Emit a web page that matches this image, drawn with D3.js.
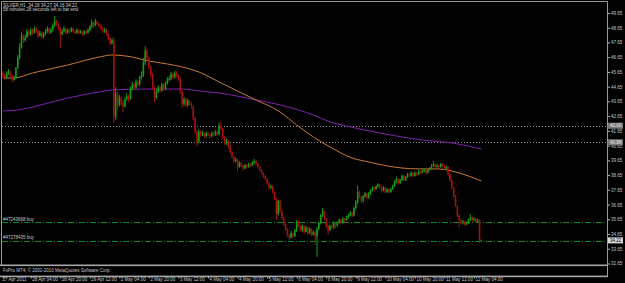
<!DOCTYPE html>
<html>
<head>
<meta charset="utf-8">
<script src="https://cdn.jsdelivr.net/npm/d3@7"></script>
<style>
  body { margin: 0; background: #000; }
  text { font-family: "Liberation Sans", Arial, sans-serif; }
</style>
</head>
<body>
<div id="chart"></div>
<script>
// SILVER H1, 27 Apr 2011 13:00 -> 12 May 2011 08:00 (one value per bar)
var firstOpen = 45.60;
var closes = [
  45.45, 45.30, 45.55, 45.70, 45.40, 45.10, 45.25, 45.90, 46.60, 47.30,
  48.10, 47.80, 48.00, 48.40, 48.20, 48.50, 48.30, 48.60, 48.40, 48.10,
  48.30, 48.00, 48.20, 48.40, 48.60, 48.30, 48.50, 48.80, 49.10, 48.90,
  48.60, 48.20, 48.40, 48.60, 48.30, 48.50, 48.40, 48.60, 48.40, 48.30,
  48.50, 48.30, 48.40, 48.20, 48.40, 48.30, 48.50, 48.70, 49.00, 48.80,
  49.10, 48.90, 48.80, 48.60, 48.40, 48.50, 48.20, 47.90, 47.60, 47.80,
  42.60, 44.20, 43.40, 43.90, 43.60, 43.30, 43.80, 44.00, 43.80, 44.50,
  44.80, 44.60, 45.00, 44.80, 45.30, 45.40, 46.30, 47.10, 46.60, 46.00,
  45.50, 44.60, 43.90, 44.30, 44.60, 44.40, 44.80, 44.50, 44.90, 45.10,
  45.20, 45.50, 45.30, 45.60, 45.40, 45.20, 44.30, 43.50, 43.80, 43.40,
  43.70, 43.50, 43.30, 42.50, 41.60, 40.90, 41.60, 41.40, 41.50, 41.30,
  41.50, 41.40, 41.30, 41.50, 41.40, 41.60, 41.40, 42.00, 41.80, 41.20,
  40.80, 41.00, 40.60, 40.20, 39.90, 39.60, 39.70, 39.20, 39.50, 39.30,
  39.10, 39.30, 39.20, 39.40, 39.30, 39.50, 39.60, 39.40, 39.20, 39.00,
  38.80, 38.60, 38.40, 38.10, 37.80, 37.90, 37.50, 37.10, 36.00, 36.90,
  36.20, 35.70, 35.30, 35.00, 34.60, 34.40, 34.70, 34.50, 34.90, 35.50,
  35.20, 34.90, 35.20, 34.80, 35.10, 34.70, 35.00, 34.60, 34.80, 34.50,
  35.00, 35.40, 35.90, 36.20, 35.70, 35.20, 34.90, 35.20, 35.10, 35.40,
  35.20, 35.40, 35.60, 35.40, 35.70, 35.60, 35.80, 35.90, 36.10, 35.90,
  36.40, 36.80, 37.50, 37.20, 36.90, 37.20, 37.40, 37.10, 37.40, 37.60,
  37.80, 37.70, 37.90, 38.00, 37.80, 37.60, 37.80, 37.50, 37.70, 37.50,
  37.70, 37.90, 38.20, 38.40, 38.10, 38.30, 38.60, 38.30, 38.50, 38.70,
  38.60, 38.80, 38.60, 38.80, 38.70, 38.90, 38.80, 38.90, 39.00, 38.80,
  39.00, 39.10, 39.30, 39.40, 39.20, 39.30, 39.20, 39.40, 39.30, 39.10,
  39.20, 38.70, 38.30, 37.80, 37.20, 36.60, 35.90, 35.60, 35.40, 35.50,
  35.30, 35.40, 35.60, 35.80, 35.60, 35.70, 35.50, 35.60, 34.18, 34.22
];
var highs = [
  45.70, 45.55, 45.70, 45.85, 45.75, 45.45, 45.40, 46.00, 46.80, 47.60,
  48.35, 48.20, 48.20, 48.55, 48.50, 48.65, 48.60, 48.75, 48.70, 48.50,
  48.45, 48.40, 48.35, 48.55, 48.75, 48.65, 48.65, 48.95, 49.45, 49.20,
  48.95, 48.70, 48.55, 48.75, 48.65, 48.60, 48.60, 48.70, 48.65, 48.50,
  48.60, 48.55, 48.50, 48.45, 48.50, 48.45, 48.60, 48.85, 49.20, 49.05,
  49.25, 49.15, 49.00, 48.90, 48.70, 48.65, 48.60, 48.30, 48.00, 47.95,
  48.00, 44.60, 44.30, 44.10, 44.00, 43.75, 43.95, 44.20, 44.10, 44.65,
  45.00, 44.90, 45.15, 45.10, 45.40, 45.70, 46.60, 47.40, 47.20, 46.70,
  46.10, 45.60, 44.70, 44.50, 44.75, 44.70, 44.90, 44.85, 45.00, 45.30,
  45.40, 45.65, 45.60, 45.75, 45.70, 45.50, 45.25, 44.40, 43.95, 43.90,
  43.85, 43.75, 43.60, 43.35, 42.60, 41.70, 41.75, 41.70, 41.65, 41.55,
  41.60, 41.60, 41.45, 41.60, 41.60, 41.70, 41.65, 42.20, 42.30, 41.85,
  41.30, 41.15, 41.05, 40.70, 40.30, 39.95, 39.85, 39.75, 39.60, 39.55,
  39.35, 39.40, 39.40, 39.50, 39.45, 39.60, 39.75, 39.65, 39.45, 39.25,
  39.05, 38.85, 38.65, 38.45, 38.15, 38.00, 37.95, 37.55, 37.15, 36.95,
  36.95, 36.25, 35.75, 35.35, 35.05, 34.70, 34.85, 34.75, 35.00, 35.60,
  35.55, 35.25, 35.30, 35.25, 35.20, 35.15, 35.10, 35.05, 34.90, 34.85,
  35.10, 35.50, 36.00, 36.40, 36.25, 35.75, 35.25, 35.30, 35.30, 35.50,
  35.45, 35.50, 35.70, 35.65, 35.80, 35.75, 35.90, 36.00, 36.20, 36.15,
  36.50, 36.95, 37.95, 37.60, 37.25, 37.30, 37.50, 37.45, 37.50, 37.70,
  37.90, 37.85, 37.95, 38.10, 38.05, 37.85, 37.90, 37.85, 37.75, 37.75,
  37.80, 38.00, 38.30, 38.55, 38.45, 38.40, 38.70, 38.65, 38.60, 38.80,
  38.80, 38.90, 38.85, 38.90, 38.85, 39.00, 38.95, 39.00, 39.10, 39.05,
  39.10, 39.20, 39.40, 39.60, 39.45, 39.40, 39.35, 39.50, 39.45, 39.35,
  39.30, 39.25, 38.75, 38.35, 37.85, 37.30, 36.65, 36.00, 35.70, 35.60,
  35.55, 35.50, 35.70, 36.00, 35.85, 35.80, 35.75, 35.70, 35.65, 34.27
];
var lows = [
  45.25, 45.10, 45.20, 45.45, 45.30, 44.95, 45.05, 45.20, 45.85, 46.50,
  47.25, 47.60, 47.70, 47.95, 48.05, 48.10, 48.15, 48.25, 48.30, 47.95,
  48.05, 47.90, 47.95, 48.15, 48.30, 48.20, 48.25, 48.40, 48.70, 48.75,
  48.45, 47.30, 48.15, 48.35, 48.20, 48.25, 48.30, 48.35, 48.30, 48.20,
  48.25, 48.20, 48.25, 48.10, 48.15, 48.20, 48.25, 48.40, 48.60, 48.65,
  48.75, 48.80, 48.65, 48.50, 48.30, 48.30, 48.10, 47.80, 47.45, 47.50,
  42.20, 42.40, 43.10, 43.30, 43.35, 42.90, 43.25, 43.70, 43.60, 43.75,
  44.40, 44.45, 44.50, 44.70, 44.70, 45.15, 45.30, 46.10, 46.40, 45.85,
  45.30, 44.45, 43.60, 43.80, 44.20, 44.25, 44.30, 44.35, 44.40, 44.80,
  45.00, 45.10, 45.15, 45.20, 45.25, 45.05, 44.15, 43.20, 43.35, 43.25,
  43.30, 43.40, 43.15, 42.35, 41.45, 40.60, 40.80, 41.25, 41.30, 41.15,
  41.20, 41.30, 41.15, 41.20, 41.25, 41.30, 41.30, 41.35, 41.70, 41.10,
  40.70, 40.70, 40.45, 40.10, 39.80, 39.45, 39.50, 38.90, 39.15, 39.20,
  38.95, 39.05, 39.10, 39.15, 39.20, 39.25, 39.40, 39.30, 39.10, 38.90,
  38.70, 38.45, 38.30, 38.00, 37.65, 37.70, 37.40, 36.95, 35.60, 35.90,
  36.10, 35.60, 35.20, 34.85, 34.45, 34.25, 34.35, 34.40, 34.45, 34.80,
  35.10, 34.80, 34.80, 34.65, 34.75, 34.60, 34.65, 34.50, 34.55, 33.90,
  33.10, 34.90, 35.30, 35.80, 35.60, 35.05, 34.60, 34.85, 35.00, 35.00,
  35.05, 35.15, 35.35, 35.30, 35.35, 35.45, 35.55, 35.70, 35.85, 35.80,
  35.85, 36.30, 36.70, 37.05, 36.75, 36.80, 37.10, 37.00, 37.05, 37.30,
  37.55, 37.55, 37.65, 37.80, 37.70, 37.45, 37.55, 37.40, 37.45, 37.40,
  37.45, 37.65, 37.85, 38.10, 38.00, 38.05, 38.25, 38.20, 38.25, 38.45,
  38.50, 38.55, 38.50, 38.55, 38.60, 38.65, 38.70, 38.75, 38.85, 38.70,
  38.75, 38.95, 39.05, 39.20, 39.10, 39.15, 39.10, 39.15, 39.20, 39.00,
  39.00, 38.60, 38.20, 37.70, 37.10, 36.50, 35.80, 35.10, 35.30, 35.30,
  35.20, 35.25, 35.35, 35.55, 35.50, 35.50, 35.40, 35.45, 34.05, 34.16
];

// moving averages at these bar positions
var maFastBars = [0, 6, 16, 35, 52, 59, 70, 79, 89, 97, 106, 117, 128, 137, 150, 159, 168, 177, 189, 198, 208, 216, 225, 235, 243, 252, 259];
var maFast = [45.24, 45.24, 45.58, 46.12, 46.66, 46.80, 46.66, 46.39, 46.19, 45.99, 45.65, 44.97, 44.29, 43.75, 42.93, 42.05, 41.24, 40.56, 39.81, 39.54, 39.27, 39.13, 39.07, 39.07, 38.93, 38.59, 38.25];
var maSlowBars = [0, 8, 16, 35, 52, 59, 79, 97, 106, 117, 137, 150, 168, 177, 188, 204, 227, 243, 259];
var maSlow = [43.00, 43.07, 43.27, 43.88, 44.29, 44.43, 44.49, 44.49, 44.36, 44.22, 43.75, 43.41, 42.73, 42.26, 41.92, 41.51, 41.03, 40.83, 40.42];

var priceTicks = [49.65, 48.65, 47.65, 46.65, 45.65, 44.65, 43.65, 42.65, 41.65, 40.65, 39.65, 38.65, 37.65, 36.65, 35.65, 34.65, 33.65, 32.65];
var timeBars = [0, 15, 31, 47, 63, 79, 95, 111, 127, 143, 159, 175, 191, 207, 223, 239, 255];
var timeLabels = ["27 Apr 2011", "28 Apr 04:00", "28 Apr 20:00", "29 Apr 12:00", "2 May 04:00", "2 May 20:00", "3 May 12:00", "4 May 04:00", "4 May 20:00", "5 May 12:00", "6 May 04:00", "6 May 20:00", "9 May 12:00", "10 May 04:00", "10 May 20:00", "11 May 12:00", "12 May 04:00"];

var levelLines = [42.00, 40.88];
var orderPrices = [35.45, 34.20];
var orderLabels = ["#47243668 buy", "#47278435 buy"];
var bid = 34.22;
var titleLine = "SILVER,H1  34.18 34.27 34.16 34.22";
var timerLine = "58 minutes 28 seconds left to bar end";
var footer = "FxPro MT4, \u00a9 2001-2010 MetaQuotes Software Corp.";

var svgWidth = 625, svgHeight = 283;
var plotLeft = 2, plotRight = 607, plotTop = 2, plotBottom = 265;

var svg = d3.select("#chart").append("svg")
  .attr("width", svgWidth)
  .attr("height", svgHeight)
  .style("display", "block")
  .style("background", "#000");

var x = d3.scaleLinear().domain([0, 327]).range([3, 607]);
var y = d3.scaleLinear().domain([32.65, 49.65]).range([263.5, 13]);

svg.append("clipPath").attr("id", "plot")
  .append("rect")
  .attr("x", plotLeft).attr("y", plotTop)
  .attr("width", plotRight - plotLeft).attr("height", plotBottom - plotTop);

var plot = svg.append("g").attr("clip-path", "url(#plot)");

// horizontal level lines (dotted)
plot.selectAll("line.level")
  .data(levelLines)
  .enter().append("line")
  .attr("class", "level")
  .attr("x1", plotLeft).attr("x2", plotRight)
  .attr("y1", d => Math.round(y(d)) + 0.5).attr("y2", d => Math.round(y(d)) + 0.5)
  .attr("stroke", "#8c8c8c")
  .attr("stroke-width", 1)
  .attr("stroke-dasharray", "1,2");

// order lines
plot.selectAll("line.order")
  .data(orderPrices)
  .enter().append("line")
  .attr("class", "order")
  .attr("x1", plotLeft).attr("x2", plotRight)
  .attr("y1", d => Math.round(y(d)) + 0.5).attr("y2", d => Math.round(y(d)) + 0.5)
  .attr("stroke", "#118c11")
  .attr("stroke-width", 1)
  .attr("stroke-dasharray", "6,2,1,2");

plot.selectAll("text.order")
  .data(orderPrices)
  .enter().append("text")
  .attr("class", "order")
  .attr("x", 3)
  .attr("y", d => y(d) - 1.5)
  .attr("fill", "#c8c8c8")
  .style("font-size", "4.5px")
  .text((d, i) => orderLabels[i]);

// moving averages
var maLine = d3.line().curve(d3.curveMonotoneX);

plot.append("path")
  .attr("d", maLine(maSlowBars.map((b, i) => [x(b), y(maSlow[i])])))
  .attr("fill", "none")
  .attr("stroke", "#8020b0")
  .attr("stroke-width", 1);

plot.append("path")
  .attr("d", maLine(maFastBars.map((b, i) => [x(b), y(maFast[i])])))
  .attr("fill", "none")
  .attr("stroke", "#c87a32")
  .attr("stroke-width", 1);

// candles
var bars = closes.map(function(c, i) {
  var o = i === 0 ? firstOpen : closes[i - 1];
  return {
    i: i, o: o, c: c,
    h: Math.max(highs[i], o, c),
    l: Math.min(lows[i], o, c)
  };
});

var candles = plot.selectAll("g.candle")
  .data(bars)
  .enter().append("g")
  .attr("class", "candle");

candles.append("line")
  .attr("x1", d => x(d.i)).attr("x2", d => x(d.i))
  .attr("y1", d => y(d.h)).attr("y2", d => y(d.l))
  .attr("stroke", d => d.c >= d.o ? "#13a013" : "#a80f0f")
  .attr("stroke-width", 1);

candles.append("rect")
  .attr("x", d => x(d.i) - 0.75)
  .attr("width", 1.5)
  .attr("y", d => y(Math.max(d.o, d.c)))
  .attr("height", d => Math.max(0.6, y(Math.min(d.o, d.c)) - y(Math.max(d.o, d.c))))
  .attr("fill", d => d.c >= d.o ? "#13a013" : "#a80f0f");

// frame
svg.append("path")
  .attr("d", "M1.5,265 V1.5 H607.5 V276")
  .attr("fill", "none")
  .attr("stroke", "#9a9a9a")
  .attr("stroke-width", 1);

svg.append("rect").attr("x", 0).attr("y", 264.5).attr("width", 608).attr("height", 1.6).attr("fill", "#a8a8a8");
svg.append("rect").attr("x", 0).attr("y", 275.6).attr("width", 608).attr("height", 1.6).attr("fill", "#a8a8a8");

svg.append("text")
  .attr("x", 3).attr("y", 271.8)
  .attr("fill", "#c8c8c8")
  .style("font-size", "4.5px")
  .text(footer);

// price axis
var yAxis = d3.axisRight(y)
  .tickValues(priceTicks)
  .tickSize(2)
  .tickPadding(1)
  .tickFormat(d3.format(".2f"));

var yAxisG = svg.append("g")
  .attr("transform", "translate(608,0)")
  .call(yAxis);
yAxisG.select(".domain").remove();
yAxisG.selectAll("line").attr("stroke", "#b4b4b4");
yAxisG.selectAll("text")
  .attr("fill", "#c8c8c8")
  .style("font-size", "4.5px")
  .style("font-family", "'Liberation Sans', Arial, sans-serif");

// price boxes
var boxes = levelLines.map(v => ({ v: v, bg: "#7a7a7a", fg: "#e8e8e8" }))
  .concat([{ v: bid, bg: "#d8d8d8", fg: "#000" }]);

var boxG = svg.selectAll("g.box")
  .data(boxes)
  .enter().append("g")
  .attr("class", "box");

boxG.append("rect")
  .attr("x", 608).attr("width", 15)
  .attr("y", d => y(d.v) - 3).attr("height", 6)
  .attr("fill", d => d.bg);

boxG.append("text")
  .attr("x", 610).attr("y", d => y(d.v) + 1.6)
  .attr("fill", d => d.fg)
  .style("font-size", "4.5px")
  .text(d => d3.format(".2f")(d.v));

// time axis
var xAxis = d3.axisBottom(x)
  .tickValues(timeBars)
  .tickSize(1.5)
  .tickFormat((d, i) => timeLabels[i]);

var xAxisG = svg.append("g")
  .attr("transform", "translate(0,277)")
  .call(xAxis);
xAxisG.select(".domain").remove();
xAxisG.selectAll("line").attr("stroke", "#b4b4b4");
xAxisG.selectAll("text")
  .attr("fill", "#c8c8c8")
  .attr("text-anchor", "start")
  .attr("dx", 1)
  .attr("y", 1.2)
  .attr("dy", "0.71em")
  .style("font-size", "4.5px")
  .style("font-family", "'Liberation Sans', Arial, sans-serif");
xAxisG.select(".tick text").attr("dx", -1);

// header
svg.append("text")
  .attr("x", 3).attr("y", 6.5)
  .attr("fill", "#d0d0d0")
  .style("font-size", "4.5px")
  .style("white-space", "pre")
  .text(titleLine);

svg.append("text")
  .attr("x", 3).attr("y", 11)
  .attr("fill", "#d0d0d0")
  .style("font-size", "4.5px")
  .text(timerLine);
</script>
</body>
</html>
